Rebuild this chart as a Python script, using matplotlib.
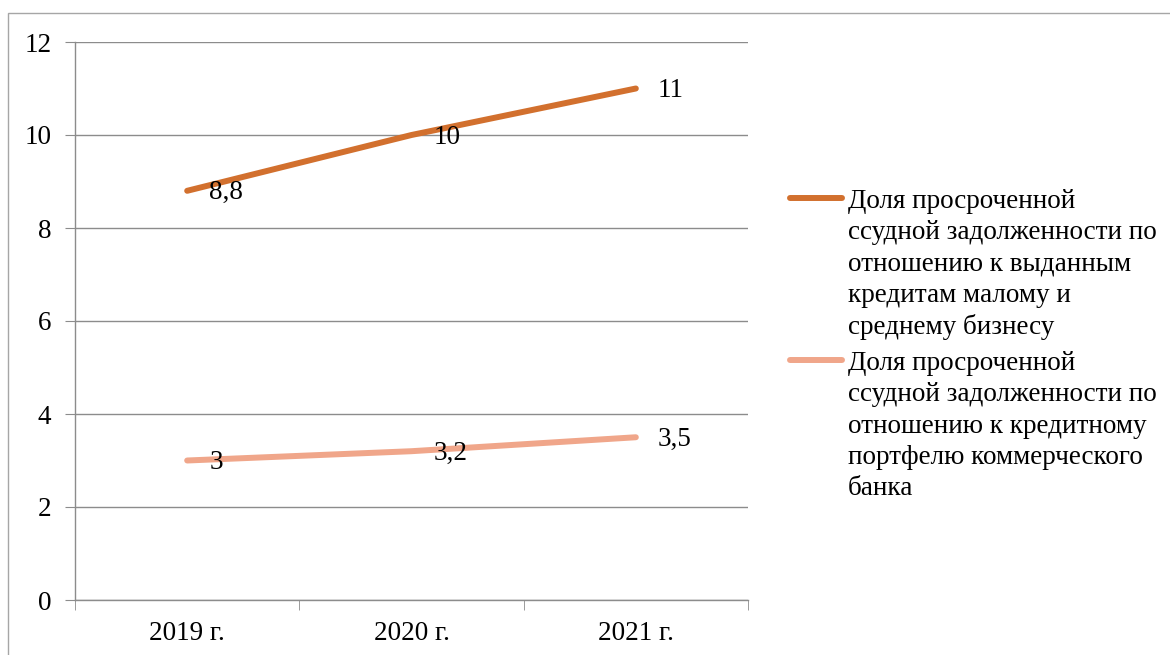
import matplotlib
matplotlib.use('Agg')
import matplotlib.pyplot as plt
from matplotlib.lines import Line2D
from matplotlib.patches import Rectangle

plt.rcParams['font.family'] = 'serif'
plt.rcParams['font.serif'] = ['Liberation Serif', 'Times New Roman', 'DejaVu Serif']

# data
years = ['2019 г.', '2020 г.', '2021 г.']
smb_share = [8.8, 10, 11]
portfolio_share = [3, 3.2, 3.5]
smb_labels = ['8,8', '10', '11']
portfolio_labels = ['3', '3,2', '3,5']
legend_labels = [
    'Доля просроченной\nссудной задолженности по\nотношению к выданным\nкредитам малому и\nсреднему бизнесу',
    'Доля просроченной\nссудной задолженности по\nотношению к кредитному\nпортфелю коммерческого\nбанка',
]
y_ticks = [0, 2, 4, 6, 8, 10, 12]

colors = {'smb': '#D2702E', 'portfolio': '#F0A68A', 'grid': '#8C8C8C', 'frame': '#A6A6A6'}
W, H = 1170, 655
FS = 19.5

fig = plt.figure(figsize=(W / 100, H / 100), dpi=100)
fig.patch.set_facecolor('white')

# outer chart frame (right/bottom edges fall outside the image)
fig.add_artist(Rectangle((8 / W, -0.1), 1.2, (H - 13) / H + 0.1, transform=fig.transFigure,
                         facecolor='none', edgecolor=colors['frame'], linewidth=1.0))

ax = fig.add_axes([75 / W, (H - 600) / H, (748 - 75) / W, (600 - 42) / H])
x = list(range(len(years)))

ax.plot(x, smb_share, color=colors['smb'], linewidth=4.3, solid_capstyle='round', zorder=3)
ax.plot(x, portfolio_share, color=colors['portfolio'], linewidth=4.3, solid_capstyle='round', zorder=3)

for xi, yi, lab in zip(x, smb_share, smb_labels):
    ax.annotate(lab, (xi, yi), xytext=(16, -1.5), textcoords='offset points',
                ha='left', va='center', fontsize=FS, color='black', zorder=4)
for xi, yi, lab in zip(x, portfolio_share, portfolio_labels):
    ax.annotate(lab, (xi, yi), xytext=(16, -1.5), textcoords='offset points',
                ha='left', va='center', fontsize=FS, color='black', zorder=4)

ax.set_xlim(-0.5, len(years) - 0.5)
ax.set_ylim(0, 12)
ax.set_yticks(y_ticks)
ax.set_yticklabels([str(t) for t in y_ticks], fontsize=FS)
ax.yaxis.grid(True, color=colors['grid'], linewidth=1.0)
ax.set_axisbelow(True)

# category labels centred, ticks at category boundaries
ax.set_xticks(x)
ax.set_xticklabels(years, fontsize=FS)
ax.tick_params(axis='x', which='major', length=0, pad=15)
ax.set_xticks([i - 0.5 for i in range(len(years) + 1)], minor=True)
ax.tick_params(axis='x', which='minor', length=7, color=colors['grid'], direction='out')
ax.tick_params(axis='y', length=7, color=colors['grid'], pad=10)

for side in ['top', 'right']:
    ax.spines[side].set_visible(False)
for side in ['left', 'bottom']:
    ax.spines[side].set_color(colors['grid'])
    ax.spines[side].set_linewidth(1.0)

# legend drawn by hand so the handle sits on the first text line
for label, col, top in zip(legend_labels, [colors['smb'], colors['portfolio']], [198, 360]):
    fig.add_artist(Line2D([790 / W, 842 / W], [(H - top) / H] * 2, transform=fig.transFigure,
                          color=col, linewidth=4.3, solid_capstyle='round'))
    fig.text(848 / W, (H - top + 9) / H, label, ha='left', va='top', fontsize=FS,
             linespacing=1.33)

fig.savefig('out.png', dpi=100, facecolor='white')
